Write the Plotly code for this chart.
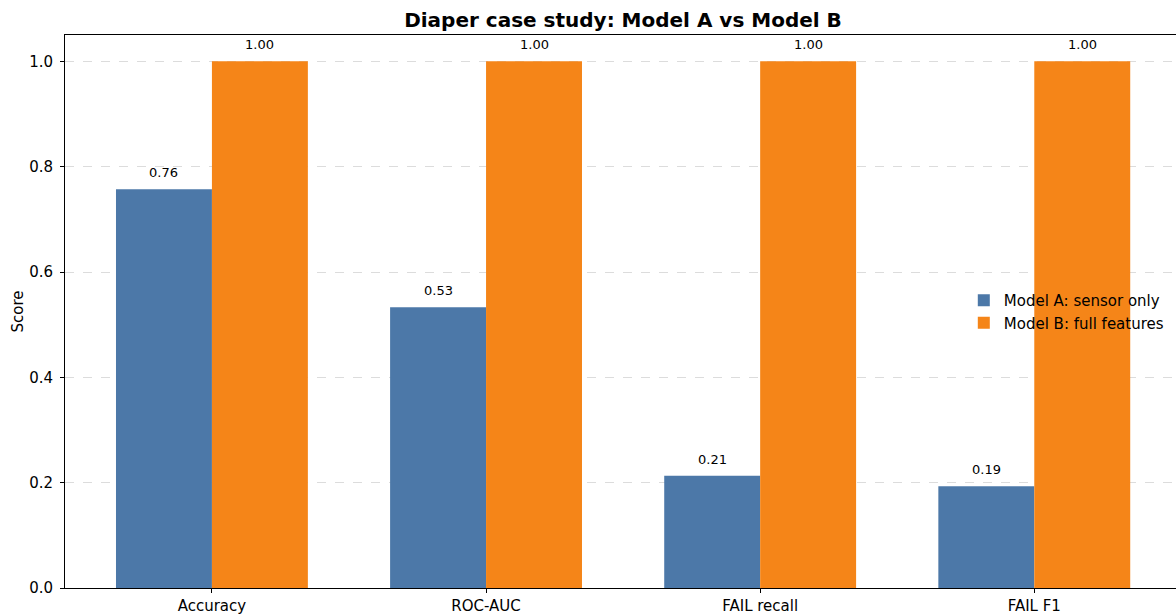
import plotly.graph_objects as go

metrics = ["Accuracy", "ROC-AUC", "FAIL recall", "FAIL F1"]
model_a = [0.757, 0.533, 0.213, 0.193]
model_b = [1.0, 1.0, 1.0, 1.0]
name_a = "Model A: sensor only"
name_b = "Model B: full features"

x_pos = list(range(len(metrics)))
bar_w = 0.35
x_a = [x - bar_w / 2 for x in x_pos]
x_b = [x + bar_w / 2 for x in x_pos]

font = "DejaVu Sans, sans-serif"

fig = go.Figure()
fig.add_trace(go.Bar(x=x_a, y=model_a, width=bar_w, name=name_a,
                     marker=dict(color="#4C78A8", line=dict(width=0))))
fig.add_trace(go.Bar(x=x_b, y=model_b, width=bar_w, name=name_b,
                     marker=dict(color="#F58518", line=dict(width=0))))

# value labels above each bar
for xs, ys in ((x_a, model_a), (x_b, model_b)):
    for x, y in zip(xs, ys):
        fig.add_annotation(x=x, y=y, text=f"{y:.2f}", showarrow=False,
                           yanchor="bottom", yshift=7,
                           font=dict(family=font, size=13, color="#000"))

fig.update_layout(
    width=1176, height=615,
    margin=dict(l=65, r=0, t=35, b=27),
    plot_bgcolor="white", paper_bgcolor="white",
    barmode="overlay",
    font=dict(family=font, size=15, color="#000"),
    title=dict(text="<b>Diaper case study: Model A vs Model B</b>",
               x=623 / 1176, xanchor="center",
               y=1 - 20 / 615, yanchor="middle",
               font=dict(family=font, size=20, color="#000")),
    showlegend=True,
    legend=dict(x=0.809, xanchor="left", y=0.50, yanchor="middle",
                bgcolor="rgba(0,0,0,0)", borderwidth=0,
                font=dict(family=font, size=15)),
    xaxis=dict(range=[-0.536, 3.517], tickmode="array", tickvals=x_pos,
               ticktext=metrics, showgrid=False, zeroline=False,
               showline=True, linecolor="#000", linewidth=1, mirror=True,
               ticks="outside", ticklen=4, tickcolor="#000",
               tickfont=dict(size=15)),
    yaxis=dict(range=[0, 1.05], tickvals=[0, 0.2, 0.4, 0.6, 0.8, 1.0],
               tickformat=".1f", showgrid=True, gridcolor="#dcdcdc",
               griddash="dash", gridwidth=1, zeroline=False,
               showline=True, linecolor="#000", linewidth=1,
               ticks="outside", ticklen=4, tickcolor="#000",
               ticklabelstandoff=4,
               tickfont=dict(size=15),
               title=dict(text="Score", font=dict(size=15), standoff=1)),
)

fig.write_html("out.html")
